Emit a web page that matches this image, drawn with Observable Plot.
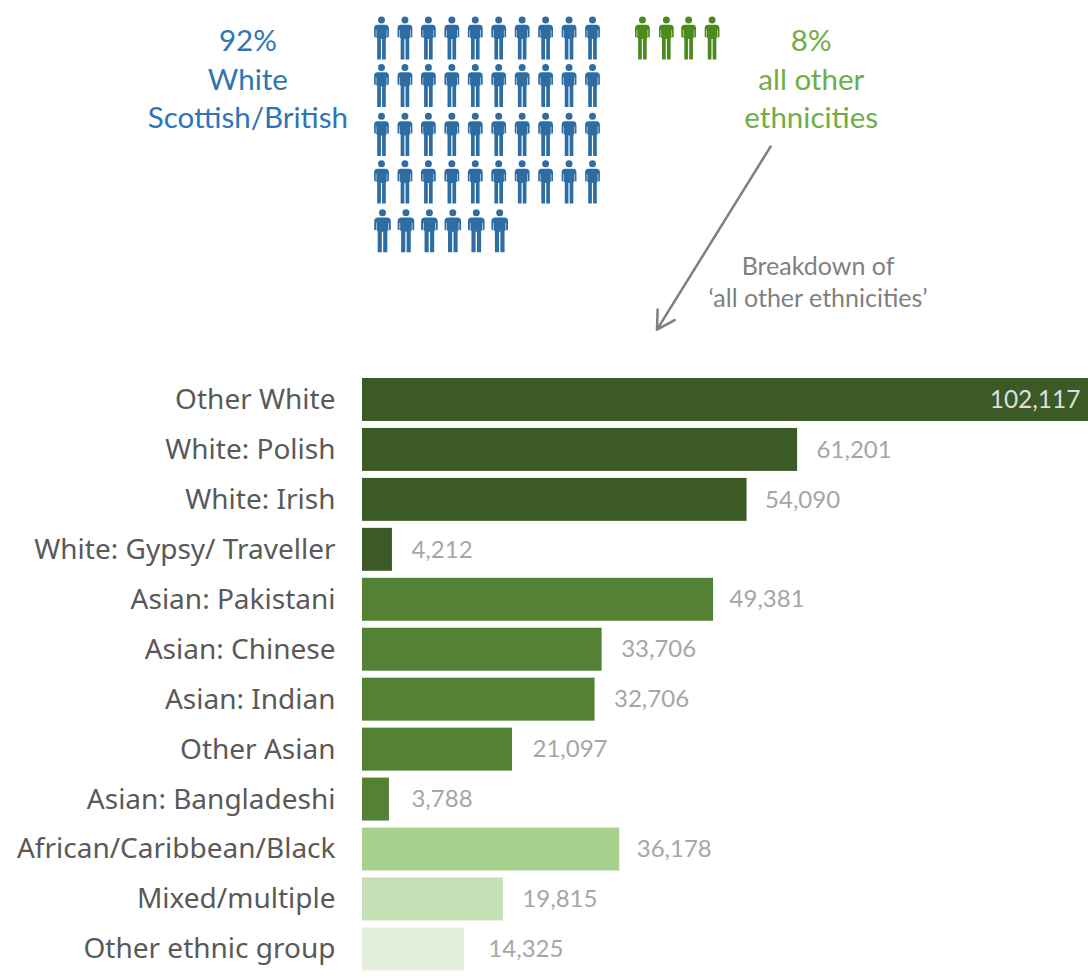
<!DOCTYPE html>
<html>
<head>
<meta charset="utf-8">
<script src="https://cdn.jsdelivr.net/npm/d3@7"></script>
<script src="https://cdn.jsdelivr.net/npm/@observablehq/plot@0.6"></script>
<style>
html,body{margin:0;padding:0;background:#fff}
#chart svg{display:block}
</style>
</head>
<body>
<div id="chart"></div>
<script>
const categories = ["Other White","White: Polish","White: Irish","White: Gypsy/ Traveller","Asian: Pakistani","Asian: Chinese","Asian: Indian","Other Asian","Asian: Bangladeshi","African/Caribbean/Black","Mixed/multiple","Other ethnic group"];
const values = [102117,61201,54090,4212,49381,33706,32706,21097,3788,36178,19815,14325];
const groups = ["white","white","white","white","asian","asian","asian","asian","asian","black","mixed","other"];
const groupNames = ["white","asian","black","mixed","other"];
const groupColors = ["#3b5a25","#548235","#a9d18e","#c5e0b4","#e2f0d9"];
const blueCount = 46, greenCount = 4, perRow = 10;
const greenCols = [11.13,12.15,13.1,14.1];
const rowSlots = [0,0.985,2,2.987,4];
const blue = "#2e6da4", green = "#4c8a1e";

// Pictogram figure as a custom dot symbol; sx widens the hand-placed last row.
const makePerson = sx => ({
  draw(c, size) {
    const k = Math.sqrt(size) / 20;
    const X = v => v * k * sx, Y = v => v * k;
    c.moveTo(X(3.5), Y(-18.1));
    c.arc(0, Y(-18.1), k * 3.5, 0, Math.PI * 2);
    c.closePath();
    const half = s => [
      [s * 7.4, -9.5], [s * 7.4, -0.8], [s * 5.7, -0.8], [s * 5.7, -8], [s * 5.2, -8],
      [s * 5.2, 0], [s * 4.3, 0], [s * 4.3, 21.5], [s * 0.6, 21.5], [s * 0.6, 1]
    ];
    c.moveTo(X(-4), Y(-13.2));
    c.lineTo(X(4), Y(-13.2));
    c.quadraticCurveTo(X(7.4), Y(-13.2), X(7.4), Y(-9.5));
    half(1).forEach(([a, b]) => c.lineTo(X(a), Y(b)));
    half(-1).reverse().forEach(([a, b]) => c.lineTo(X(a), Y(b)));
    c.quadraticCurveTo(X(-7.4), Y(-13.2), X(-4), Y(-13.2));
    c.closePath();
  }
});
const person = makePerson(1), personWide = makePerson(1.12);

const bluePeople = d3.range(blueCount).map(i => ({col: i % perRow, row: rowSlots[Math.floor(i / perRow)], last: i >= 40}));
const greenPeople = greenCols.slice(0, greenCount).map(col => ({col, row: 0}));

const W = 1088, TOP = 370, BOTTOM = 608;
const iconR = 20 / Math.sqrt(Math.PI);
const noLig = "font-variant-ligatures:none;font-feature-settings:'liga' 0";

const topPlot = Plot.plot({
  width: W, height: TOP, margin: 0,
  x: {domain: [0, 9], range: [381, 592], axis: null},
  y: {domain: [0, 4], range: [37.5, 230.3], axis: null},
  marks: [
    Plot.dot(bluePeople.filter(d => !d.last), {x: "col", y: "row", r: iconR, symbol: person, fill: blue, stroke: "none"}),
    Plot.dot(bluePeople.filter(d => d.last), {x: "col", y: "row", dx: 1, r: iconR, symbol: personWide, fill: blue, stroke: "none"}),
    Plot.dot(greenPeople, {x: "col", y: "row", r: iconR, symbol: person, fill: green, stroke: "none"}),
    Plot.text(["92%\nWhite\nScottish/British"], {x: -5.7, y: 0.81, text: d => d, fill: "#2e75b6", fontFamily: "Lato", fontSize: 29.5, lineHeight: 1.32, textAnchor: "middle", style: noLig}),
    Plot.text(["8%\nall other\nethnicities"], {x: 18.33, y: 0.81, text: d => d, fill: "#70ad47", fontFamily: "Lato", fontSize: 29.5, lineHeight: 1.32, textAnchor: "middle", style: noLig}),
    Plot.text(["Breakdown of\n‘all other ethnicities’"], {x: 18.62, y: 5.03, text: d => d, fill: "#7f7f7f", fontFamily: "Lato", fontSize: 25, lineHeight: 1.3, textAnchor: "middle", style: noLig}),
    Plot.arrow([{x1: 16.6, y1: 2.25, x2: 11.75, y2: 6.05}], {x1: "x1", y1: "y1", x2: "x2", y2: "y2", bend: 0, stroke: "#7f7f7f", strokeWidth: 2.5, headLength: 12, headAngle: 60, inset: 0})
  ]
});

const labelNudge = [0,0,-1,0,-3,0,0,1,3,-2,0,5];
const rows = categories.map((name, i) => ({name, value: values[i], group: groups[i], nudge: labelNudge[i]}));
const fmt = d3.format(",");

const barPlot = Plot.plot({
  width: W, height: BOTTOM, marginTop: 0, marginBottom: 0, marginRight: 0, marginLeft: 362,
  x: {domain: [0, 102117], range: [362, 1088], axis: null},
  y: {domain: categories, range: [1, 607.4], padding: 0.14, align: 0.5, round: false, axis: null},
  color: {domain: groupNames, range: groupColors},
  marks: [
    Plot.barX(rows, {x: "value", y: "name", fill: "group"}),
    Plot.text(rows, {x: 0, y: "name", text: "name", textAnchor: "end", dx: -27, fill: "#595959", fontFamily: "Noto Sans", fontSize: 28, style: "letter-spacing:0.4px"}),
    ...rows.filter(d => d.value < 100000).map(d =>
      Plot.text([d], {x: "value", y: "name", text: r => fmt(r.value), textAnchor: "start", dx: 19 + d.nudge, fill: "#a6a6a6", fontFamily: "Lato", fontSize: 24})),
    Plot.text(rows.filter(d => d.value >= 100000), {x: "value", y: "name", text: d => fmt(d.value), textAnchor: "end", dx: -8, fill: "#dedede", fontFamily: "Lato", fontSize: 24.5})
  ]
});

document.getElementById("chart").append(topPlot, barPlot);
</script>
</body>
</html>
